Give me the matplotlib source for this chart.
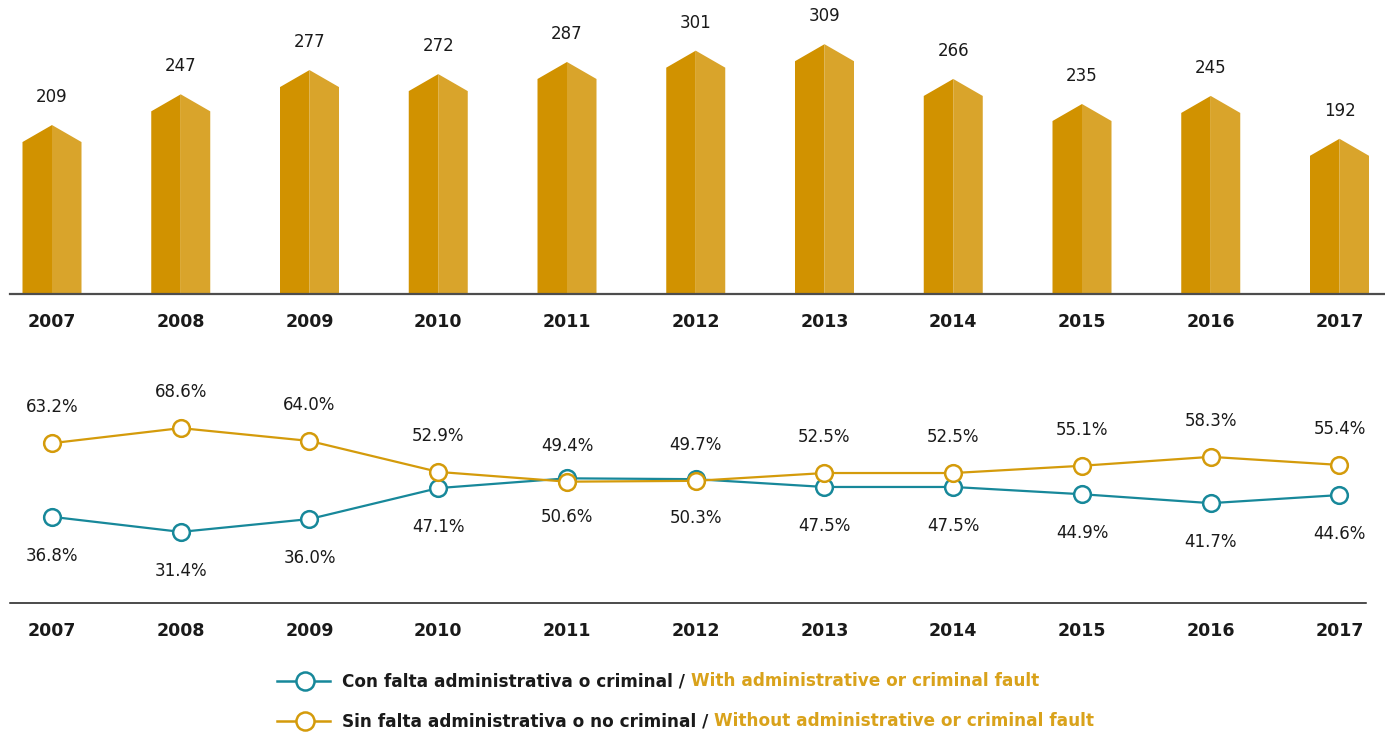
import matplotlib
matplotlib.use("Agg")
import matplotlib.pyplot as plt
from matplotlib.patches import Polygon
from matplotlib.lines import Line2D

# ---------- data ----------
years = ["2007", "2008", "2009", "2010", "2011", "2012", "2013", "2014", "2015", "2016", "2017"]
totals = [209, 247, 277, 272, 287, 301, 309, 266, 235, 245, 192]
with_fault = [36.8, 31.4, 36.0, 47.1, 50.6, 50.3, 47.5, 47.5, 44.9, 41.7, 44.6]
without_fault = [63.2, 68.6, 64.0, 52.9, 49.4, 49.7, 52.5, 52.5, 55.1, 58.3, 55.4]

legend_es = ["Con falta administrativa o criminal / ", "Sin falta administrativa o no criminal / "]
legend_en = ["With administrative or criminal fault", "Without administrative or criminal fault"]

# ---------- style ----------
GOLD_DARK = "#D19200"
GOLD_LIGHT = "#D9A42B"
TEAL = "#17889A"
ORANGE = "#D49B0B"
TEXT_GOLD = "#D9A21B"
plt.rcParams["font.family"] = ["DejaVu Sans"]

W, H = 1385, 733
fig = plt.figure(figsize=(W / 100, H / 100), dpi=100)

x0, step = 52, 128.75          # pixel centre of first category, spacing
xs = list(range(len(years)))

def px_lim(left_px, right_px):
    return ((left_px - x0) / step, (right_px - x0) / step)

# ---------- top: house-shaped bars ----------
val_per_px = 1.237
ax1 = fig.add_axes([10 / W, (H - 294) / H, (W - 10) / W, 294 / H])
ax1.set_xlim(*px_lim(10, W))
ax1.set_ylim(0, 294 * val_per_px)
half = 29.5 / step
roof = 17 * val_per_px
for x, v in zip(xs, totals):
    ax1.add_patch(Polygon([(x - half, 0), (x - half, v - roof), (x, v), (x, 0)],
                          closed=True, facecolor=GOLD_DARK, edgecolor="none"))
    ax1.add_patch(Polygon([(x, 0), (x, v), (x + half, v - roof), (x + half, 0)],
                          closed=True, facecolor=GOLD_LIGHT, edgecolor="none"))
    ax1.annotate(str(v), (x, v), xytext=(0, 28), textcoords="offset pixels",
                 ha="center", va="center", fontsize=12, color="#1a1a1a")

for s in ["top", "right", "left"]:
    ax1.spines[s].set_visible(False)
ax1.spines["bottom"].set_color("#4d4d4d")
ax1.spines["bottom"].set_linewidth(1.6)
ax1.set_yticks([])
ax1.set_xticks(xs)
ax1.set_xticklabels(years, fontsize=12.5, fontweight="bold", color="#1a1a1a")
ax1.tick_params(axis="x", length=0, pad=14)
ax1.patch.set_alpha(0)

# ---------- bottom: percentage lines ----------
pct_per_px = 1 / 2.79
ax2 = fig.add_axes([10 / W, (H - 603) / H, (1366 - 10) / W, (603 - 360) / H])
ax2.set_xlim(*px_lim(10, 1366))
ax2.set_ylim(50 - (603 - 480) * pct_per_px, 50 + (480 - 360) * pct_per_px)

mk = dict(marker="o", markersize=12, markerfacecolor="white", markeredgewidth=1.8, linewidth=1.6)
ax2.plot(xs, with_fault, color=TEAL, zorder=3, clip_on=False, **mk)
ax2.plot(xs, without_fault, color=ORANGE, zorder=4, clip_on=False, **mk)

for x, a, b in zip(xs, with_fault, without_fault):
    ax2.annotate(f"{b:.1f}%", (x, b), xytext=(0, 36), textcoords="offset pixels",
                 ha="center", va="center", fontsize=12, color="#1a1a1a")
    ax2.annotate(f"{a:.1f}%", (x, a), xytext=(0, -39), textcoords="offset pixels",
                 ha="center", va="center", fontsize=12, color="#1a1a1a")

for s in ["top", "right", "left"]:
    ax2.spines[s].set_visible(False)
ax2.spines["bottom"].set_color("#1a1a1a")
ax2.spines["bottom"].set_linewidth(1.1)
ax2.set_yticks([])
ax2.set_xticks(xs)
ax2.set_xticklabels(years, fontsize=12.5, fontweight="bold", color="#1a1a1a")
ax2.tick_params(axis="x", length=0, pad=14)
ax2.patch.set_alpha(0)

# ---------- legend (two-colour labels) ----------
for i, (col, ypx) in enumerate([(TEAL, 681), (ORANGE, 721)]):
    yf = (H - ypx) / H
    fig.add_artist(Line2D([277 / W, 330 / W], [yf, yf], transform=fig.transFigure,
                          color=col, linewidth=1.8))
    fig.add_artist(Line2D([305 / W], [yf], transform=fig.transFigure, color=col,
                          marker="o", markersize=13, markerfacecolor="white",
                          markeredgewidth=1.8, linestyle="none"))
    t1 = fig.text(342 / W, yf, legend_es[i], ha="left", va="center",
                  fontsize=12.2, fontweight="bold", color="#1a1a1a")
    ax2.annotate(legend_en[i], xy=(1, 0.5), xycoords=t1, ha="left", va="center",
                 fontsize=12.2, fontweight="bold", color=TEXT_GOLD,
                 annotation_clip=False)

fig.savefig("out.png", dpi=100)
